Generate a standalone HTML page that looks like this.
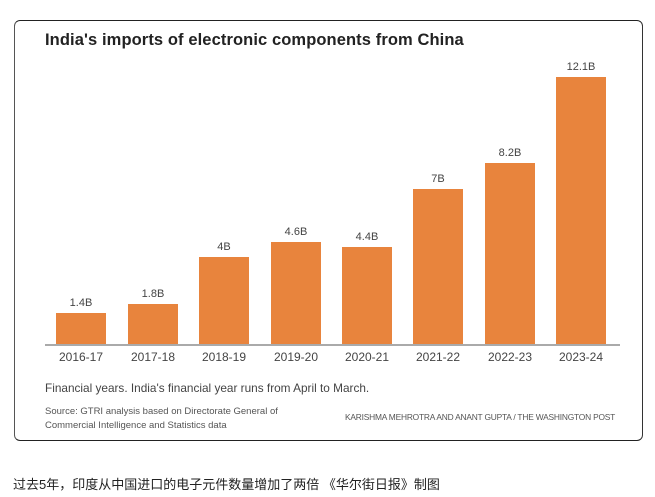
<!DOCTYPE html>
<html><head><meta charset="utf-8"><style>
body{margin:0;width:655px;height:497px;background:#fff;position:relative;overflow:hidden;font-family:"Liberation Sans","Noto Sans CJK SC",sans-serif;}
.card{position:absolute;left:14px;top:20px;width:629px;height:421px;border:1px solid #222;border-left-color:#555;border-right-color:#333;border-radius:6px;box-sizing:border-box;}
.t{position:absolute;white-space:nowrap;}
.bar{position:absolute;background:#e8843d;width:50px;}
.v{position:absolute;width:50px;text-align:center;font-size:11px;color:#444;}
.y{position:absolute;width:70px;text-align:center;font-size:12px;color:#444;top:350px;}
</style></head><body>
<div class="card"></div>
<div class="t" style="left:45px;top:31px;font-size:16.5px;font-weight:bold;color:#222;letter-spacing:0.1px">India's imports of electronic components from China</div>
<div style="position:absolute;left:45px;top:344px;width:575px;height:2px;background:#aaa"></div>

<div class="bar" style="left:56px;top:313px;height:31px"></div><div class="v" style="left:56px;top:297px">1.4B</div><div class="y" style="left:46px">2016-17</div>
<div class="bar" style="left:128px;top:304px;height:40px"></div><div class="v" style="left:128px;top:288px">1.8B</div><div class="y" style="left:118px">2017-18</div>
<div class="bar" style="left:199px;top:257px;height:87px"></div><div class="v" style="left:199px;top:241px">4B</div><div class="y" style="left:189px">2018-19</div>
<div class="bar" style="left:271px;top:242px;height:102px"></div><div class="v" style="left:271px;top:226px">4.6B</div><div class="y" style="left:261px">2019-20</div>
<div class="bar" style="left:342px;top:247px;height:97px"></div><div class="v" style="left:342px;top:231px">4.4B</div><div class="y" style="left:332px">2020-21</div>
<div class="bar" style="left:413px;top:189px;height:155px"></div><div class="v" style="left:413px;top:173px">7B</div><div class="y" style="left:403px">2021-22</div>
<div class="bar" style="left:485px;top:163px;height:181px"></div><div class="v" style="left:485px;top:147px">8.2B</div><div class="y" style="left:475px">2022-23</div>
<div class="bar" style="left:556px;top:77px;height:267px"></div><div class="v" style="left:556px;top:61px">12.1B</div><div class="y" style="left:546px">2023-24</div>

<div class="t" style="left:45px;top:381px;font-size:11.8px;color:#444">Financial years. India's financial year runs from April to March.</div>
<div class="t" style="left:45px;top:405px;font-size:9.5px;color:#555;line-height:13.5px">Source: GTRI analysis based on Directorate General of<br>Commercial Intelligence and Statistics data</div>
<div class="t" style="left:345px;top:412px;font-size:8.4px;color:#555;letter-spacing:-0.2px">KARISHMA MEHROTRA AND ANANT GUPTA / THE WASHINGTON POST</div>
<div class="t" style="left:13px;top:474px;font-size:13px;color:#222">过去5年，印度从中国进口的电子元件数量增加了两倍 《华尔街日报》制图</div>
</body></html>
